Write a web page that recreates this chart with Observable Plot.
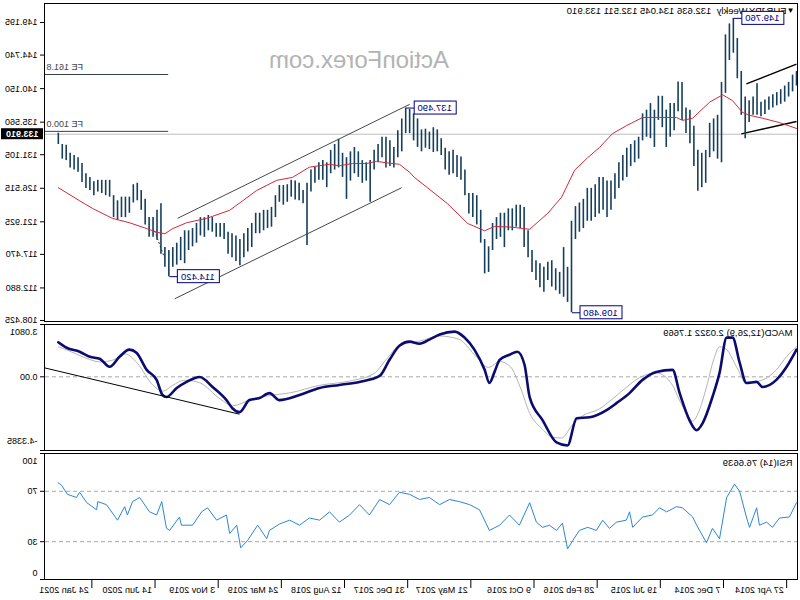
<!DOCTYPE html>
<html><head><meta charset="utf-8">
<script src="https://cdn.jsdelivr.net/npm/d3@7"></script>
<script src="https://cdn.jsdelivr.net/npm/@observablehq/plot@0.6"></script>
<style>
html,body{margin:0;padding:0;background:#fff;}
#chart{position:relative;width:800px;height:600px;transform:scaleX(-1);overflow:hidden;background:#fff;}
#chart svg{position:absolute;left:0;}
</style></head><body><div id="chart"></div>
<script>
// ---------- data (bar index = 2-week steps from firstBar) ----------
const firstBar = "2014-03-23";
const barDays = 14;
const symbol = "EURJPY,Weekly";
const ohlc = [132.636, 134.045, 132.511, 133.910];
const lastClose = 133.910;
const watermark = "ActionForex.com";
const macdLast = 2.0322;
const signalLast = 1.7669;
const rsiLast = 76.6639;

const highs = [
142.5,142.0,141.0,140.5,140.0,139.6,139.3,139.0,138.6,138.3,
140.8,139.0,138.5,139.0,142.5,147.0,149.76,149.0,147.5,141.0,
136.5,136.0,135.4,131.7,131.3,131.7,135.0,137.2,137.5,141.0,
141.05,138.1,138.1,137.2,139.1,139.1,137.2,138.1,137.2,136.7,
133.5,133.0,132.5,132.0,131.0,130.0,128.5,127.5,127.5,128.0,
128.0,127.0,126.5,126.5,125.0,124.5,124.0,122.0,115.7,118.4,
115.0,115.5,116.6,116.4,115.7,116.2,116.6,118.0,120.7,123.9,
124.2,124.2,123.7,123.7,123.1,123.1,122.5,121.7,118.5,119.5,
123.5,125.5,125.8,125.8,129.0,130.8,131.0,131.7,131.5,132.0,
133.3,134.5,134.8,134.2,134.6,134.5,136.0,136.7,137.3,137.49,
136.0,134.4,132.1,133.0,133.5,133.5,132.5,131.7,130.3,130.0,
130.3,131.5,132.1,131.5,130.7,131.3,133.2,132.5,131.7,130.0,
130.3,130.0,129.4,129.0,127.2,126.2,127.2,127.5,127.6,127.0,
126.9,126.9,125.5,123.9,123.5,123.5,123.1,123.1,121.7,121.0,
120.3,119.5,120.0,120.3,120.5,121.7,121.7,121.7,122.5,122.8,
122.5,122.5,121.7,121.0,120.7,120.7,119.8,119.0,118.4,118.0,
118.4,124.4,123.5,122.5,122.5,125.0,126.2,127.2,127.0,125.3,
125.3,125.3,124.8,125.5,127.6,127.6,127.6,127.6,127.4,128.0,
128.5,129.9,130.7,131.0,131.3,132.4,132.5,134.05];
const lows = [
140.5,139.7,139.0,138.3,138.0,137.8,137.5,137.2,136.6,136.3,
136.5,136.5,135.5,133.3,136.5,141.5,145.0,144.0,139.5,130.0,
130.5,131.5,130.7,127.2,126.6,126.1,129.5,132.6,134.0,135.8,
137.0,134.4,133.5,132.1,134.8,135.8,132.1,133.3,133.5,133.0,
130.5,130.0,129.5,128.0,127.5,126.5,125.0,123.5,122.5,123.5,
123.0,122.5,122.0,122.0,121.0,120.5,119.5,109.48,110.9,111.6,
112.0,112.5,113.0,113.9,112.3,112.9,113.9,115.0,117.0,118.4,
121.0,121.2,120.7,120.7,118.4,119.8,119.5,118.0,115.0,114.8,
119.0,121.5,122.5,123.0,125.5,127.6,128.0,128.5,128.3,129.0,
131.0,131.5,131.4,131.8,132.0,131.5,132.1,133.0,134.0,134.0,
131.5,130.7,129.3,129.5,129.3,130.7,130.0,129.0,124.6,127.5,
127.2,128.0,128.5,127.5,125.0,128.0,129.3,129.0,128.5,126.6,
127.6,127.6,127.2,126.0,118.7,124.4,124.8,124.9,125.3,124.6,
124.2,124.6,122.5,121.2,121.0,120.7,120.3,120.3,118.4,117.8,
117.0,115.9,116.5,117.0,117.5,119.5,119.8,119.8,120.5,120.7,
119.8,120.0,119.0,118.5,118.0,116.2,116.6,116.0,115.7,114.42,
115.7,117.5,119.4,119.8,119.8,121.5,123.5,124.8,124.5,123.1,
122.5,122.5,122.1,122.5,125.3,125.5,125.8,126.0,125.5,126.2,
126.5,127.3,128.7,129.0,129.3,130.3,130.5,132.5];

const maPoints = [[0,134.7],[4.3,135.5],[8.6,136.1],[11.9,136.5],[13.7,136.9],[16.2,138.5],[18.7,139.3],[22,138.3],[26.3,136.1],[28.9,135.8],[30.4,136.2],[34.7,136.2],[39,136.2],[43,135.1],[46.6,134.0],[49.9,132.1],[52.9,130.7],[56.2,129.0],[59.5,125.3],[63,123.1],[67.6,120.9],[72.2,121.2],[76.5,121.3],[79,120.7],[83.3,121.7],[88.4,124.4],[93.5,126.6],[96.8,128.0],[98,128.7],[100.6,129.8],[103.9,130.0],[106.4,130.2],[108.9,129.9],[112.5,129.9],[115.8,129.6],[118.3,129.8],[123.4,129.4],[127.7,128.0],[131.7,127.6],[136.8,126.2],[140.3,124.8],[143.6,123.5],[149.4,122.4],[154.5,121.8],[158,121.0],[160,120.3],[162.1,120.5],[164.6,121.0],[169,121.8],[173.3,122.4],[178.3,123.75],[181.6,124.8],[187,126.6]];

const macdPoints = [[0,1.60],[2.5,0.59],[5.1,-0.18],[8.6,-0.60],[10.1,-0.30],[12.7,-0.36],[14.4,0.83],[16.2,2.31],[17.7,2.31],[19.5,0.23],[21.3,-1.19],[23.8,-2.74],[25.3,-3.15],[27.1,-2.56],[29.6,-0.96],[31.4,0.41],[35.5,0.29],[39,-0.18],[42.3,-0.96],[45.6,-1.55],[48.1,-1.96],[52.4,-2.38],[55.7,-2.44],[58,-4.04],[60.8,-3.86],[64.3,-2.56],[67.6,-1.19],[68.9,0.71],[70.7,1.48],[72.7,1.30],[75.2,1.00],[76.5,0.29],[77.8,-0.36],[79,0.41],[81.6,1.60],[84.1,2.31],[86.6,2.66],[90.4,2.49],[93,2.19],[95.5,1.95],[98,2.07],[100.6,1.83],[103.1,1.00],[105.6,0.05],[110.7,-0.30],[115.8,-0.48],[120.8,-0.66],[125.9,-1.07],[131,-1.37],[133.5,-0.96],[136,-1.25],[138.6,-1.37],[141.1,-2.08],[142.9,-1.85],[144.4,-1.37],[147.9,-0.60],[151.2,-0.01],[154.5,-0.30],[157,-0.66],[159.6,-1.19],[160.6,-1.07],[162.1,-0.18],[164.6,0.41],[167.2,1.42],[169,1.60],[171.5,1.18],[174,0.59],[176.5,1.06],[179,1.18],[181.6,1.48],[184.9,1.71],[187,macdLast]];

const signalPoints = [[0,1.77],[2.5,1.2],[5.1,0.41],[8.6,-0.18],[12.7,-0.36],[15.2,0.59],[17.7,1.6],[19.5,1.77],[21,1.0],[22.8,-0.6],[24.5,-1.9],[26.3,-2.6],[27.9,-2.14],[30,-1.2],[31.4,-0.5],[35.5,0.23],[39.8,-0.05],[43,-0.6],[46.6,-1.3],[50,-1.9],[54.2,-2.3],[57,-2.9],[59.5,-3.6],[61.8,-3.56],[64.3,-3.1],[67.6,-2.14],[70,-0.6],[72.5,0.6],[75.2,0.9],[78,0.55],[81.6,1.3],[85.4,2.2],[90.4,2.4],[95.5,2.1],[100.6,1.85],[104,1.0],[107,0.2],[113.2,-0.25],[120.8,-0.5],[128.4,-0.95],[133.5,-1.1],[137.8,-1.3],[142.9,-1.7],[146,-1.3],[151.2,-0.35],[155,-0.2],[158,-0.5],[160.6,-0.85],[163,-0.5],[167,0.8],[170,1.35],[173,1.0],[176.5,0.88],[180,1.1],[184,1.5],[187,signalLast]];

const rsiPoints = [[0,61.0],[1.8,49.6],[4.3,48.8],[6.1,41.4],[7.6,45.5],[9.4,43.1],[10.1,56.9],[11.9,41.4],[12.7,49.6],[14.4,70.0],[15.7,75.7],[17.7,65.1],[19.5,32.4],[21.3,40.6],[22.8,29.2],[25.3,43.1],[26.3,49.6],[28.9,56.9],[30.4,57.8],[32.9,53.7],[34.7,56.9],[36.5,51.2],[39,49.6],[41.5,41.4],[42.3,53.7],[43.1,47.1],[45.6,45.5],[47.4,40.6],[49.1,47.1],[50.7,39.0],[52.9,41.4],[55,39.0],[56.7,30.8],[58,24.3],[59.3,44.7],[60.8,39.0],[62.6,43.1],[64.3,41.4],[65.9,45.5],[67.6,61.0],[70.2,43.1],[72.7,51.2],[75.2,43.1],[77.8,39.0],[80.3,55.3],[82.8,59.4],[85.4,61.8],[87.9,63.5],[90.4,59.4],[93,65.1],[95.5,63.5],[98,67.6],[100.6,69.2],[103.1,59.4],[105.6,63.5],[108.2,51.2],[110.7,59.4],[113.2,51.2],[115.8,45.5],[118.3,53.7],[120.8,47.1],[123.4,48.8],[125.9,43.1],[128.4,47.1],[131,44.0],[133.5,39.0],[134.2,32.4],[136.5,43.1],[139.1,30.8],[140.8,25.1],[141.8,43.1],[143.6,36.5],[144.4,51.2],[146.9,47.1],[149.2,56.9],[150.7,53.7],[153,43.1],[155.8,43.1],[156.3,49.6],[158.8,39.0],[159.6,40.6],[160.8,61.8],[162.1,51.2],[163.9,53.7],[166.4,65.1],[168.2,61.8],[169.5,51.2],[170.2,57.8],[172,47.1],[174.8,59.4],[177,61.8],[177.3,55.3],[179.8,61.0],[181.6,69.2],[182.4,65.1],[184.7,67.6],[186.2,74.9],[187,rsiLast]];

const priceTicks = [149.195,144.740,140.150,135.560,131.105,126.515,121.925,117.470,112.880,108.425];
const macdRange = [-4.3385, 3.0801];
const rsiLevels = [70, 30];
const tickLabels = ["27 Apr 2014","7 Dec 2014","19 Jul 2015","28 Feb 2016","9 Oct 2016","21 May 2017","31 Dec 2017","12 Aug 2018","24 Mar 2019","3 Nov 2019","14 Jun 2020","24 Jan 2021"];

const feLabels = ["FE 161.8", "FE 100.0"];
const feValues = [142.08, 134.30];
const feStart = 159.3;
const extremeIdx = [16, 99, 159, 57];
const extremeVals = [149.76, 137.49, 114.42, 109.48];
const channelLines = [[156.8,122.4,98,138.0],[157.5,111.4,100,126.6]];
const recentChannel = [[12.7,140.8,0,143.5],[14.0,133.96,0,135.65]];
const dottedLine = [[162.6,120.7,160.1,117.0]];
const macdTrend = [[190.5,0.528,141.1,-2.202]];

// ---------- build ----------
const FONT = '"Liberation Sans", Arial, sans-serif';
const baseStyle = {fontFamily: FONT, fontSize: "9px", color: "#000", background: "transparent", overflow: "visible"};
const xDomain = [-0.25, 190.5];
const XR = xDomain[1];
const t0 = d3.utcParse("%Y-%m-%d")(firstBar);
const parseTick = d3.utcParse("%d %b %Y");
const ticks = tickLabels.map(s => ({label: s, i: (parseTick(s) - t0) / (barDays * 864e5)}));
const bars = highs.map((h, i) => ({i, h, l: lows[i]}));
const fe = feLabels.map((label, k) => ({label, p: feValues[k]}));
const extremes = extremeIdx.map((i, k) => ({i, p: extremeVals[k], t: extremeVals[k].toFixed(3)}));
const seg = a => a.map(([i1, p1, i2, p2]) => ({i1, p1, i2, p2}));
const X = d => d[0], Y = d => d[1];
const common = {width: 800, marginLeft: 2, marginRight: 45, style: baseStyle, x: {domain: xDomain, axis: null}};
const headerText = `${symbol}  ${ohlc.map(v => v.toFixed(3)).join(" ")}`;

const pricePlot = Plot.plot({
  ...common, height: 322, marginTop: 3, marginBottom: 1,
  y: {domain: [108.286, 151.795], axis: null},
  marks: [
    Plot.text([watermark], {frameAnchor: "top", lineAnchor: "middle", dx: 62, dy: 57, fontSize: 24, fill: "#b3b3b3"}),
    Plot.ruleY([lastClose], {stroke: "#bdbdbd"}),
    Plot.ruleY(fe, {y: "p", x1: feStart, x2: XR, stroke: "#33414c"}),
    Plot.text(fe, {y: "p", x: XR, text: "label", textAnchor: "end", dx: -2, dy: -7, fill: "#444", fontSize: 9}),
    Plot.link(seg(channelLines), {x1: "i1", y1: "p1", x2: "i2", y2: "p2", stroke: "#333", strokeWidth: 0.9}),
    Plot.link(seg(recentChannel), {x1: "i1", y1: "p1", x2: "i2", y2: "p2", stroke: "#000", strokeWidth: 1.4}),
    Plot.link(seg(dottedLine), {x1: "i1", y1: "p1", x2: "i2", y2: "p2", stroke: "#333", strokeDasharray: "2,2"}),
    Plot.ruleX(bars, {x: "i", y1: "l", y2: "h", stroke: "#163f5c", strokeWidth: 1.6}),
    Plot.line(maPoints, {x: X, y: Y, stroke: "#d22a36", strokeWidth: 1}),
    Plot.text([headerText], {frameAnchor: "top-left", lineAnchor: "middle", dx: 11, dy: 7, fontSize: 9.5}),
    Plot.text(["▼"], {frameAnchor: "top-left", lineAnchor: "middle", dx: 3, dy: 7, fontSize: 8}),
    Plot.ruleY(extremes, {y: "p", x1: "i", x2: "i", insetLeft: -8, stroke: "#000080"}),
    Plot.rect(extremes, {x1: "i", x2: "i", y1: "p", y2: "p", insetLeft: -50, insetRight: 8, insetTop: -6.5, insetBottom: -6.5, fill: "#fff", stroke: "#000080"}),
    Plot.text(extremes, {x: "i", y: "p", text: "t", dx: -29, fill: "#000080", fontSize: 9.5}),
    Plot.frame({stroke: "#000"}),
    Plot.axisY({ticks: priceTicks, anchor: "right", tickSize: 4, tickPadding: 3, tickFormat: d => d.toFixed(3), textAnchor: "start", label: null}),
    Plot.rect([lastClose], {x1: XR, x2: XR, y1: d => d, y2: d => d, insetLeft: 2, insetRight: -44, insetTop: -5.5, insetBottom: -5.5, fill: "#000"}),
    Plot.text([lastClose], {x: XR, y: d => d, text: d => d.toFixed(3), textAnchor: "start", dx: 6, fill: "#fff", fontWeight: "bold"})
  ]
});

const macdPlot = Plot.plot({
  ...common, height: 129, marginTop: 2, marginBottom: 1,
  y: {domain: macdRange, axis: null},
  marks: [
    Plot.ruleY([0], {stroke: "#a8a8a8", strokeDasharray: "4,3"}),
    Plot.line(signalPoints, {x: X, y: Y, stroke: "#b4b4b4", strokeWidth: 1, curve: "monotone-x"}),
    Plot.line(macdPoints, {x: X, y: Y, stroke: "#0b0b70", strokeWidth: 2.6, curve: "monotone-x"}),
    Plot.link(seg(macdTrend), {x1: "i1", y1: "p1", x2: "i2", y2: "p2", stroke: "#000", strokeWidth: 1}),
    Plot.frame({stroke: "#000"}),
    Plot.axisY({ticks: [0, ...macdRange], anchor: "right", tickSize: 4, tickFormat: () => "", label: null}),
    Plot.text([0], {y: d => d, frameAnchor: "right", textAnchor: "start", dx: 7, text: () => "0.00"}),
    Plot.text([macdRange[1]], {y: d => d, frameAnchor: "right", textAnchor: "start", dx: 7, dy: 8, text: d => d.toFixed(4)}),
    Plot.text([macdRange[0]], {y: d => d, frameAnchor: "right", textAnchor: "start", dx: 7, dy: -9, text: d => d.toFixed(4)}),
    Plot.text([`MACD(12,26,9) ${macdLast.toFixed(4)} ${signalLast.toFixed(4)}`],
      {frameAnchor: "top-left", lineAnchor: "middle", dx: 5, dy: 8, fontSize: 9.5})
  ]
});

const rsiPlot = Plot.plot({
  ...common, height: 149, marginTop: 2, marginBottom: 21,
  y: {domain: [0, 100], axis: null},
  marks: [
    Plot.ruleY(rsiLevels, {stroke: "#a8a8a8", strokeDasharray: "4,3"}),
    Plot.line(rsiPoints, {x: X, y: Y, stroke: "#2c86d6", strokeWidth: 1}),
    Plot.frame({stroke: "#000"}),
    Plot.axisY({ticks: [0, 30, 70, 100], anchor: "right", tickSize: 4, tickFormat: () => "", label: null}),
    Plot.text(rsiLevels, {y: d => d, frameAnchor: "right", textAnchor: "start", dx: 7, text: d => String(d)}),
    Plot.text([100], {y: d => d, frameAnchor: "right", textAnchor: "start", dx: 7, dy: 8, text: d => String(d)}),
    Plot.text([0], {y: d => d, frameAnchor: "right", textAnchor: "start", dx: 7, dy: -6, text: d => String(d)}),
    Plot.axisX({ticks: ticks.map(d => d.i), anchor: "bottom", tickSize: 9, tickFormat: () => "", label: null}),
    Plot.text(ticks, {x: "i", text: "label", frameAnchor: "bottom", lineAnchor: "middle", textAnchor: "start", dx: 3, dy: 11}),
    Plot.text([`RSI(14) ${rsiLast.toFixed(4)}`],
      {frameAnchor: "top-left", lineAnchor: "middle", dx: 5, dy: 9, fontSize: 9.5})
  ]
});

const chart = document.getElementById("chart");
[[pricePlot, 0], [macdPlot, 322], [rsiPlot, 451]].forEach(([svg, top]) => {
  svg.style.top = top + "px";
  chart.appendChild(svg);
});
</script>
</body></html>
